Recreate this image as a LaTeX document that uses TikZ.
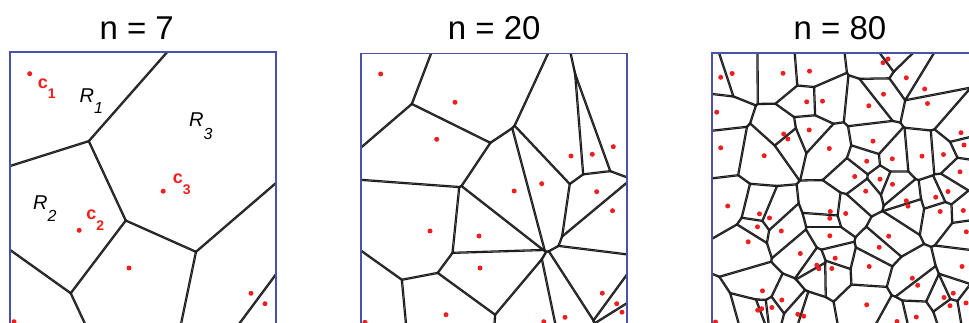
\documentclass[tikz,border=0pt]{standalone}
\usepackage{fontspec}
\setmainfont{Liberation Sans}
\usetikzlibrary{calc}

\definecolor{frameblue}{RGB}{72,82,168}
\definecolor{seedred}{RGB}{240,30,30}
\definecolor{edgegray}{RGB}{30,30,30}

% seed points of the three panels (x to the right, y downwards)
\def\seedsA{29.7/73.7, 79.2/230.3, 163.2/191.2, 129/268, 251/293.3, 265/303.7, 14/321.7}
\def\seedsB{380.7/74, 455/102.3, 436.7/139.3, 430/231, 479/236, 480/268, 446/314.7,
  365/322.3, 514.2/191, 541.7/183.7, 571/156, 592.3/154.3, 613.3/146.7, 596.7/191.7,
  612.5/210.7, 602.3/293.2, 616.7/303.7, 622/312.2, 565/317.3, 543.8/321.7}
\def\seedsC{720.7/77.3, 732.2/73.5, 783/73.3, 809.5/71.2, 883/62.7, 888/59, 906.3/77.8,
  924.7/89, 927.5/103.5, 883.5/94.2, 868.8/105.8, 806.7/101.8, 822.5/101.2, 716.7/112.2,
  809.2/130, 783.7/134, 787.8/139, 720.7/147.8, 764.2/155.7, 829.3/148.5, 873/141.2,
  866.7/161.2, 892.3/158.8, 922/156.2, 943.5/154.5, 961/132.7, 964/145, 960/171.8,
  854.7/176.5, 880/179.2, 892.5/184.3, 865.7/191.2, 948/191.5, 935.7/197.2, 906.3/200.8,
  908/206.2, 940.2/211.5, 963.3/210.5, 727.7/206, 759.5/213.8, 769.5/218, 757.5/226.8,
  781.3/231, 748.2/241.8, 830.3/211.5, 829.8/218.3, 845.7/213.5, 829.8/235.8, 888.7/236.2,
  879.2/247.3, 966.3/231.8, 800.3/253.5, 835.2/258.2, 816.8/265.2, 818.8/268.7,
  831.8/268.5, 869.2/266.5, 912.3/278.2, 917.7/285.3, 962/266.5, 762.5/290.8, 781.8/300,
  757.7/310.2, 761.7/308.7, 771.8/307.5, 797.8/314.3, 803.7/316.2, 866.7/304.8, 944/297.5,
  953.3/293.2, 950/305.7, 966/303, 916.3/317, 715.5/322, 897/321.5}

% one cell per seed: clip to the half planes, then stroke the bisectors
\newcommand{\cells}[2]{%
  \foreach \xa/\ya in #1{%
    \begin{scope}
      \foreach \xb/\yb in #1{%
        \pgfmathsetmacro{\dd}{veclen(\xb-\xa,\yb-\ya)}%
        \ifdim\dd pt>0.1pt\ifdim\dd pt<#2pt
          \coordinate (p) at (\xa,\ya);
          \coordinate (q) at (\xb,\yb);
          \coordinate (m) at ($(p)!0.5!(q)$);
          \clip ($(m)!700pt!90:(q)$) -- ($(m)!700pt!-90:(q)$)
            -- ($(m)!700pt!-90:(q)!700pt!90:(m)$)
            -- ($(m)!700pt!90:(q)!700pt!-90:(m)$) -- cycle;
        \fi\fi}
      \foreach \xb/\yb in #1{%
        \pgfmathsetmacro{\dd}{veclen(\xb-\xa,\yb-\ya)}%
        \ifdim\dd pt>0.1pt\ifdim\dd pt<#2pt
          \coordinate (p) at (\xa,\ya);
          \coordinate (q) at (\xb,\yb);
          \coordinate (m) at ($(p)!0.5!(q)$);
          \draw[edge] ($(m)!700pt!90:(q)$) -- ($(m)!700pt!-90:(q)$);
        \fi\fi}
    \end{scope}}}

\begin{document}
\begin{tikzpicture}[x=1pt,y=-1pt,
    frame/.style={draw=frameblue,line width=1.7pt},
    edge/.style={draw=edgegray,line width=2.3pt},
    seed/.style={fill=seedred},
    title/.style={font=\fontsize{33}{33}\selectfont,anchor=base,inner sep=0pt},
    rlabel/.style={font=\fontsize{20}{20}\selectfont\itshape,anchor=base west,inner sep=0pt},
    clabel/.style={font=\fontsize{18}{18}\selectfont\bfseries,text=seedred,anchor=base west,inner sep=0pt}]

  \useasboundingbox[fill=white] (0,0) rectangle (969,323);

  % Titles
  \node[title] (t7)  at (136.7,39.5) {n = 7};
  \node[title] (t20) at (494.2,39.5) {n = 20};
  \node[title] (t80) at (840,39.5)   {n = 80};

  % Panel n = 7
  \begin{scope}
    \clip (10,52.3) rectangle (276,340);
    \cells{\seedsA}{1000}
  \end{scope}
  \draw[frame] (10,340) -- (10,52.3) -- (276,52.3) -- (276,340);
  \foreach \x/\y in \seedsA { \fill[seed] (\x,\y) circle (2.5); }

  % Labels of panel n = 7
  \node[rlabel] (r1) at (79.5,102.7) {R\raisebox{-10.5pt}{\fontsize{16}{16}\selectfont 1}};
  \node[rlabel] (r2) at (33,209.3)   {R\raisebox{-12pt}{\fontsize{16}{16}\selectfont 2}};
  \node[rlabel] (r3) at (189,126.7)  {R\raisebox{-12.5pt}{\fontsize{16}{16}\selectfont 3}};
  \node[clabel] (c1) at (37.7,88.3)  {c\raisebox{-10pt}{\fontsize{14}{14}\selectfont 1}};
  \node[clabel] (c2) at (86.1,219.3) {c\raisebox{-11pt}{\fontsize{14}{14}\selectfont 2}};
  \node[clabel] (c3) at (172.7,184)  {c\raisebox{-11pt}{\fontsize{14}{14}\selectfont 3}};

  % Panel n = 20
  \begin{scope}
    \clip (361,53.5) rectangle (627,340);
    \cells{\seedsB}{1000}
  \end{scope}
  \draw[frame] (361,340) -- (361,53.5) -- (627,53.5) -- (627,340);
  \foreach \x/\y in \seedsB { \fill[seed] (\x,\y) circle (2.5); }

  % Panel n = 80
  \begin{scope}
    \clip (712,53) rectangle (978,340);
    \cells{\seedsC}{90}
  \end{scope}
  \draw[frame] (712,340) -- (712,53) -- (978,53) -- (978,340);
  \foreach \x/\y in \seedsC { \fill[seed] (\x,\y) circle (2.5); }

\end{tikzpicture}
\end{document}
